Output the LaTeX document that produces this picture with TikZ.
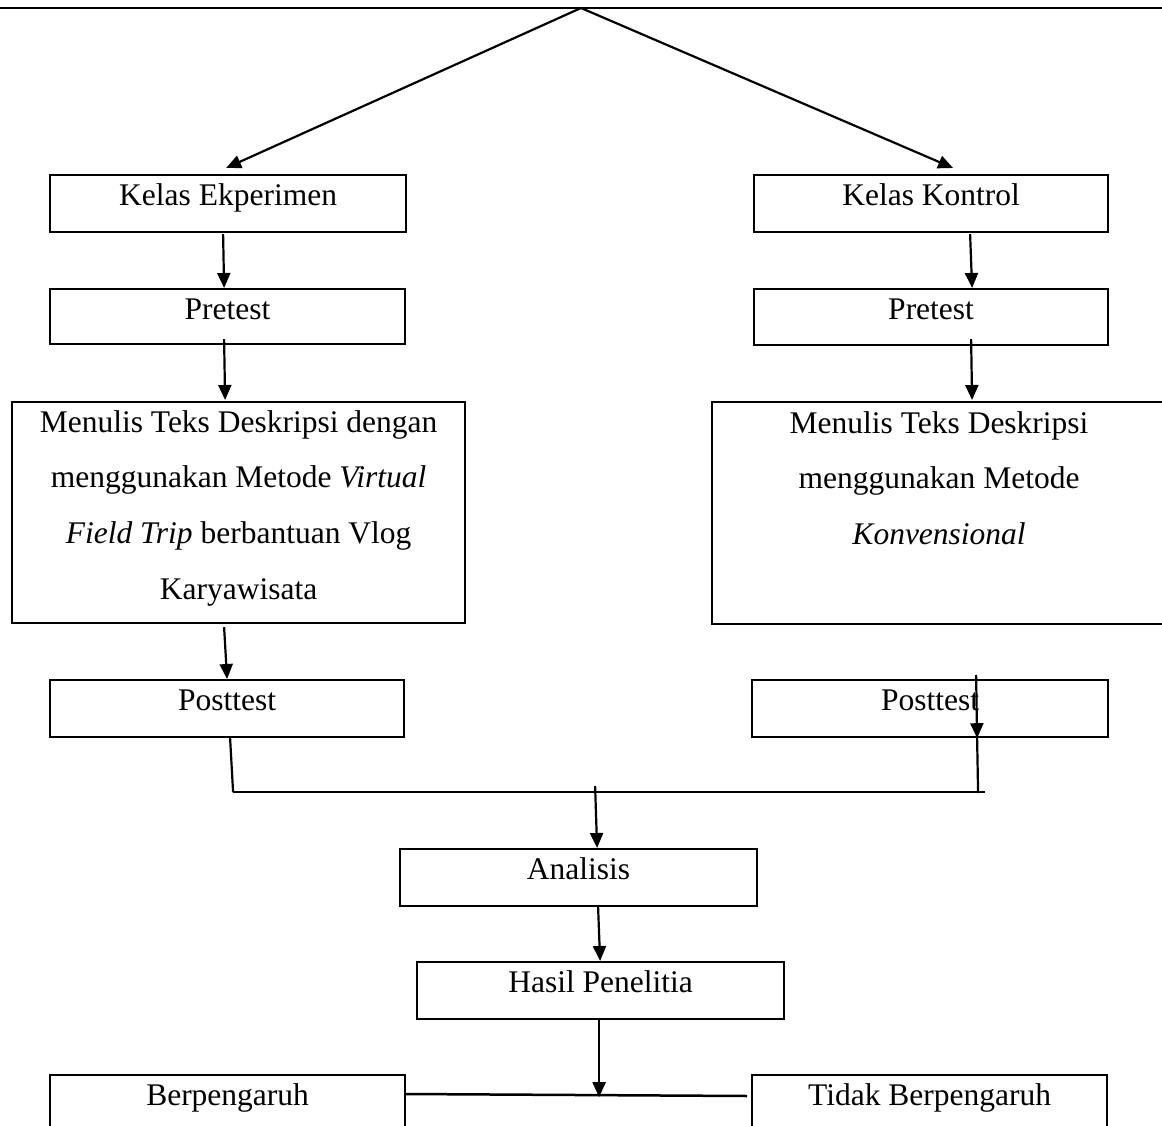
\documentclass[tikz,border=0pt]{standalone}
\usepackage{fontspec}
\setmainfont{Liberation Serif}
\usetikzlibrary{arrows.meta,calc}
\begin{document}
\begin{tikzpicture}[x=1pt,y=-1pt,
  box/.style={draw, line width=2.2pt, inner sep=0pt, anchor=north west, align=center,
    text height=30pt, font=\fontsize{31.5pt}{55.7pt}\selectfont},
  conn/.style={line width=2.2pt},
  arr/.style={conn, -{Triangle[length=15pt,width=13pt]}}
]
\useasboundingbox (0,0) rectangle (1162,1126);
\fill[white] (0,0) rectangle (1162,1126);

% top rule and apex
\coordinate (topL) at (0,8);
\coordinate (topR) at (1162,8);
\coordinate (apex) at (581,8);
\draw[line width=2.5pt] (topL) -- (topR);

% boxes
\node[box, minimum width=356pt, text depth=27pt] (ke) at (49,174) {Kelas Ekperimen};
\node[box, minimum width=354pt, text depth=27pt] (kk) at (753,174) {Kelas Kontrol};
\node[box, minimum width=355pt, text depth=25pt] (pre1) at (49,288) {Pretest};
\node[box, minimum width=354pt, text depth=26pt] (pre2) at (753,288) {Pretest};
\node[box, minimum width=453pt, text height=197.1pt, text depth=23.9pt] (m1) at (11,401)
  {Menulis Teks Deskripsi dengan\\ menggunakan Metode \textit{Virtual}\\ \textit{Field Trip} berbantuan Vlog\\ Karyawisata};
\node[box, minimum width=454pt, text height=142.4pt, text depth=79.6pt] (m2) at (711,401)
  {Menulis Teks Deskripsi\\ menggunakan Metode\\ \textit{Konvensional}};
\node[box, minimum width=354pt, text depth=27pt] (post1) at (49,679) {Posttest};
\node[box, minimum width=356pt, text depth=27pt] (post2) at (751,679) {Posttest};
\node[box, minimum width=357pt, text depth=27pt] (ana) at (399,848) {Analisis};
\node[box, minimum width=367pt, text depth=27pt] (has) at (416,961) {Hasil Penelitia};
\node[box, minimum width=355pt, text depth=40pt] (ber) at (49,1074) {Berpengaruh};
\node[box, minimum width=355pt, text depth=40pt] (tid) at (751,1074) {Tidak Berpengaruh};

% junction coordinates
\coordinate (jl) at ($(post1.south)+(6,54)$);
\coordinate (jr) at ($(post2.south)+(48,55)$);
\coordinate (je) at ($(post2.south)+(55,54)$);
\coordinate (jm) at ($(ana.north)+(16.5,-62)$);
\coordinate (jb) at ($(has.south)+(-1.5,77)$);
\coordinate (bl) at ($(ber.north east)+(0,20)$);
\coordinate (br) at ($(tid.north west)+(-4,22)$);

% connectors
\draw[arr] (apex) -- ($(ke.north)+(-2,-6)$);
\draw[arr] (apex) -- ($(kk.north)+(22,-6)$);
\draw[arr] ($(ke.south)+(-5,1)$) -- ($(pre1.north)+(-3.5,0)$);
\draw[arr] ($(kk.south)+(39,1)$) -- ($(pre2.north)+(41,0)$);
\draw[arr] ($(pre1.south)+(-3.5,-6)$) -- ($(m1.north)+(-13.5,-1)$);
\draw[arr] ($(pre2.south)+(40,-7)$) -- ($(m2.north)+(33,-1)$);
\draw[arr] ($(m1.south)+(-14.5,3)$) -- (post1.north);
\draw[arr] ($(post2.north)+(46,-4)$) -- ($(post2.south)+(47,0)$);
\draw[conn] ($(post2.south)+(47,0)$) -- (jr);
\draw[conn] ($(post1.south)+(3,0)$) -- (jl);
\draw[line width=2.5pt] (jl) -- (je);
\draw[arr] (jm) -- ($(ana.north)+(18.5,0)$);
\draw[arr] ($(ana.south)+(19.5,0)$) -- ($(has.north)+(-0.5,0)$);
\draw[arr] ($(has.south)+(-1.5,0)$) -- (jb);
\draw[line width=2.5pt] (bl) -- (br);
\end{tikzpicture}
\end{document}
